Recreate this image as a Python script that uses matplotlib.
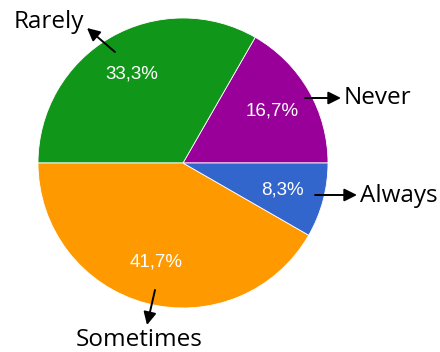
import matplotlib.pyplot as plt
import numpy as np

labels = ["Never", "Rarely", "Sometimes", "Always"]
values = [16.7, 33.3, 41.7, 8.3]
colors = ["#990099", "#109618", "#FF9900", "#3366CC"]

H = 352  # figure height in px, used to flip pixel y

fig = plt.figure(figsize=(4.4, 3.52), dpi=100)
ax = fig.add_axes([0, 0, 1, 1])


def fmt(p):
    return "{:.1f}%".format(p).replace(".", ",")


wedges, texts = ax.pie(values, colors=colors, startangle=0, counterclock=True,
                       center=(183, H - 163), radius=145, frame=True,
                       wedgeprops=dict(edgecolor="white", linewidth=0.6))[:2]
ax.set_xlim(0, 440)
ax.set_ylim(0, H)
ax.set_aspect("equal")
ax.axis("off")

# percent labels inside the slices
for w, v in zip(wedges, values):
    ang = np.deg2rad((w.theta1 + w.theta2) / 2)
    r = 0.71 * w.r
    ax.text(w.center[0] + r * np.cos(ang), w.center[1] + r * np.sin(ang), fmt(v),
            ha="center", va="center", color="white", fontsize=13.5,
            family="Liberation Sans")

# outside labels with arrows (pixel positions)
arrow = dict(arrowstyle="-|>", color="black", lw=1.4, mutation_scale=19,
             shrinkA=0, shrinkB=0)
tkw = dict(fontsize=17.5, family="Open Sans", color="black")

ax.annotate("", xy=(87, H - 28), xytext=(115, H - 52), arrowprops=arrow)
ax.text(49, H - 22, "Rarely", ha="center", va="center", **tkw)

ax.annotate("", xy=(341, H - 98), xytext=(305, H - 98), arrowprops=arrow)
ax.text(344, H - 98, "Never", ha="left", va="center", **tkw)

ax.annotate("", xy=(357, H - 195), xytext=(315, H - 195), arrowprops=arrow)
ax.text(360, H - 196, "Always", ha="left", va="center", **tkw)

ax.annotate("", xy=(147, H - 325), xytext=(155, H - 290), arrowprops=arrow)
ax.text(139, H - 340, "Sometimes", ha="center", va="center", **tkw)

fig.savefig("out.png", dpi=100)
